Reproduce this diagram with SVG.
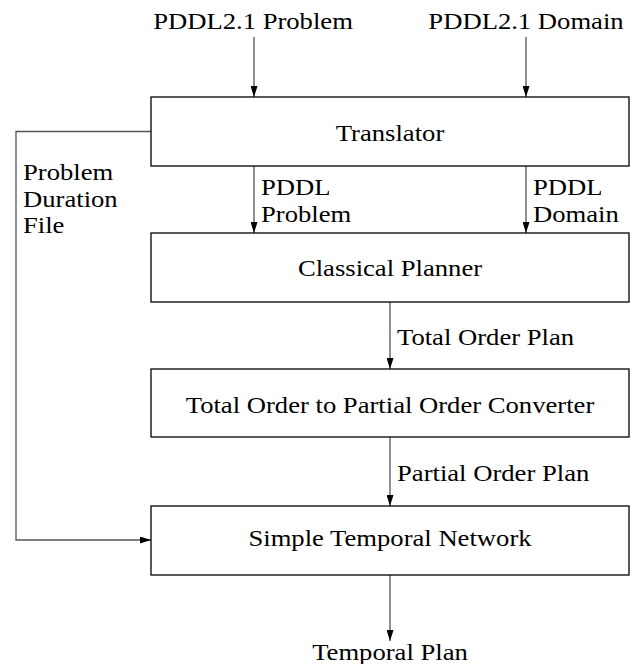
<svg xmlns="http://www.w3.org/2000/svg" width="636" height="664" viewBox="0 0 636 664">
<style>
text{font-family:"Liberation Serif","Times New Roman",serif;font-size:24px;fill:#000}
.box{fill:#fff;stroke:#000;stroke-width:1.3}
.c{fill:none;stroke:#555;stroke-width:1.3}
.m{text-anchor:middle}
</style>
<defs>
<marker id="ahv" viewBox="0 0 11 7" refX="11" refY="3.5" markerWidth="11" markerHeight="7" markerUnits="userSpaceOnUse" orient="auto">
<path d="M0,0 L11,3.5 L0,7 Z" fill="#000"/>
</marker>
</defs>
<g id="connectors">
<line class="c" x1="254" y1="37" x2="254" y2="97" marker-end="url(#ahv)"/>
<line class="c" x1="526" y1="37" x2="526" y2="97" marker-end="url(#ahv)"/>
<line class="c" x1="254" y1="166" x2="254" y2="233" marker-end="url(#ahv)"/>
<line class="c" x1="526" y1="166" x2="526" y2="233" marker-end="url(#ahv)"/>
<line class="c" x1="390" y1="302" x2="390" y2="369" marker-end="url(#ahv)"/>
<line class="c" x1="390" y1="437" x2="390" y2="506" marker-end="url(#ahv)"/>
<line class="c" x1="390" y1="575" x2="390" y2="641" marker-end="url(#ahv)"/>
<polyline class="c" points="151,131.5 16,131.5 16,540 151,540" marker-end="url(#ahv)"/>
<text transform="translate(261,195) scale(1.11,1)">PDDL</text>
<text transform="translate(261,222) scale(1.11,1)">Problem</text>
<text transform="translate(533,195) scale(1.11,1)">PDDL</text>
<text transform="translate(533,222) scale(1.11,1)">Domain</text>
<text transform="translate(397,345) scale(1.11,1)">Total Order Plan</text>
<text transform="translate(397,481) scale(1.11,1)">Partial Order Plan</text>
<text transform="translate(23,180) scale(1.11,1)">Problem</text>
<text transform="translate(23,207) scale(1.11,1)">Duration</text>
<text transform="translate(23,233) scale(1.11,1)">File</text>
</g>
<g id="in-problem"><text class="m" transform="translate(253,29) scale(1.11,1)">PDDL2.1 Problem</text></g>
<g id="in-domain"><text class="m" transform="translate(526,29) scale(1.11,1)">PDDL2.1 Domain</text></g>
<g id="translator"><rect class="box" x="151" y="97" width="478" height="69"/><text class="m" transform="translate(390,141) scale(1.11,1)">Translator</text></g>
<g id="planner"><rect class="box" x="151" y="233" width="478" height="69"/><text class="m" transform="translate(390,276) scale(1.11,1)">Classical Planner</text></g>
<g id="converter"><rect class="box" x="151" y="369" width="478" height="68"/><text class="m" transform="translate(390,413) scale(1.11,1)">Total Order to Partial Order Converter</text></g>
<g id="stn"><rect class="box" x="151" y="506" width="478" height="69"/><text class="m" transform="translate(390,546) scale(1.11,1)">Simple Temporal Network</text></g>
<g id="out"><text class="m" transform="translate(390,660) scale(1.11,1)">Temporal Plan</text></g>
</svg>
